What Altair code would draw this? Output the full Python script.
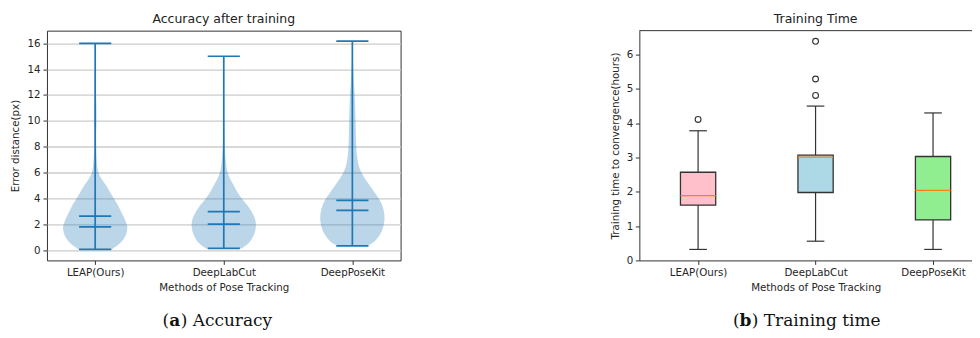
import json
import altair as alt
import pandas as pd

# ---------------- data ----------------
methods = ["LEAP(Ours)", "DeepLabCut", "DeepPoseKit"]
positions = [1, 2, 3]

# violin outlines (error distance level, half width in x units)
leap_levels = [0.05, 0.5, 1.0, 1.5, 1.8, 2.0, 2.5, 3.0, 3.5, 4.0, 4.5, 5.0, 5.5, 6.0, 7.0, 8.0, 9.0, 10.0, 11.0, 12.0, 13.0, 14.0, 15.0, 16.0]
leap_half = [0.13, 0.19, 0.23, 0.248, 0.25, 0.245, 0.225, 0.2, 0.175, 0.145, 0.115, 0.085, 0.05, 0.025, 0.012, 0.008, 0.007, 0.01, 0.01, 0.006, 0.004, 0.003, 0.002, 0.001]
dlc_levels = [0.13, 0.5, 1.0, 1.5, 2.0, 2.5, 3.0, 3.5, 4.0, 4.5, 5.0, 5.5, 6.0, 7.0, 8.0, 9.0, 10.0, 11.0, 12.0, 13.0, 14.0, 15.0]
dlc_half = [0.14, 0.19, 0.225, 0.245, 0.25, 0.24, 0.215, 0.18, 0.14, 0.105, 0.078, 0.05, 0.03, 0.015, 0.008, 0.005, 0.004, 0.003, 0.002, 0.002, 0.001, 0.001]
dpk_levels = [0.33, 0.5, 1.0, 1.5, 2.0, 2.5, 3.0, 3.5, 4.0, 4.5, 5.0, 5.5, 6.0, 6.5, 7.0, 8.0, 9.0, 10.0, 11.0, 12.0, 13.0, 14.0, 15.0, 16.17]
dpk_half = [0.12, 0.15, 0.2, 0.23, 0.245, 0.25, 0.245, 0.23, 0.205, 0.17, 0.135, 0.1, 0.07, 0.05, 0.04, 0.03, 0.027, 0.025, 0.022, 0.018, 0.012, 0.007, 0.003, 0.001]

violin_min = [0.05, 0.13, 0.33]
violin_max = [16.0, 15.0, 16.17]
violin_mean = [2.62, 2.98, 3.84]
violin_median = [1.8, 2.01, 3.07]

# training time box plot statistics (hours)
box_low = [0.32, 0.56, 0.32]
box_q1 = [1.61, 1.98, 1.18]
box_median = [1.89, 3.01, 2.04]
box_q3 = [2.57, 3.07, 3.03]
box_high = [3.78, 4.5, 4.3]
outlier_method = ["LEAP(Ours)", "DeepLabCut", "DeepLabCut", "DeepLabCut"]
outlier_value = [4.11, 4.81, 5.29, 6.39]
box_colors = ["#ffc0cb", "#add8e6", "#90ee90"]

title_a = "Accuracy after training"
title_b = "Training Time"
caption_a = ["(", "a", ") Accuracy"]
caption_b = ["(", "b", ") Training time"]

# ---------------- tables ----------------
pos_of = dict(zip(methods, positions))
vrows = []
for m, p, lv, hw in zip(methods, positions, [leap_levels, dlc_levels, dpk_levels], [leap_half, dlc_half, dpk_half]):
    for y, w in zip(lv, hw):
        vrows.append({"method": m, "y": y, "lo": p - w, "hi": p + w})
vdf = pd.DataFrame(vrows)

sdf = pd.DataFrame({"method": methods, "pos": positions, "vmin": violin_min, "vmax": violin_max})
crows = []
for m, p, a, b, c, d in zip(methods, positions, violin_min, violin_max, violin_mean, violin_median):
    for v in (a, b, c, d):
        crows.append({"method": m, "value": v, "lo": p - 0.125, "hi": p + 0.125})
cdf = pd.DataFrame(crows)

bdf = pd.DataFrame({"method": methods, "pos": positions, "low": box_low, "q1": box_q1,
                    "median": box_median, "q3": box_q3, "high": box_high})
bdf["lo"] = bdf["pos"] - 0.15
bdf["hi"] = bdf["pos"] + 0.15
wrows = []
for m, p, a, b in zip(methods, positions, box_low, box_high):
    for v in (a, b):
        wrows.append({"method": m, "value": v, "lo": p - 0.075, "hi": p + 0.075})
wdf = pd.DataFrame(wrows)
odf = pd.DataFrame({"method": outlier_method, "value": outlier_value})
odf["pos"] = odf["method"].map(pos_of)

# ---------------- styling ----------------
FONT = "DejaVu Sans"
TXT = "#262626"
DARK = "#333333"
BLUE = "#1f77b4"
label_expr = json.dumps(methods) + "[datum.value - 1]"

ax_common = dict(labelFont=FONT, labelFontSize=10.3, labelColor=TXT, titleFont=FONT,
                 titleFontSize=10.3, titleFontWeight="normal", titleColor=TXT,
                 tickColor=DARK, tickWidth=1, tickSize=4)


def text_layer(txt, x, y, size, font=FONT, weight="normal", align="center", color="#222222"):
    return alt.Chart(alt.Data(values=[{}])).mark_text(
        font=font, fontSize=size, color=color, align=align, baseline="alphabetic", fontWeight=weight,
    ).encode(x=alt.value(x), y=alt.value(y), text=alt.value(txt))


def caption(parts, x0, widths, y):
    layers = []
    x = x0
    for i, t in enumerate(parts):
        layers.append(text_layer(t, x, y, 17, font="DejaVu Serif",
                                 weight="bold" if i == 1 else "normal", align="left", color="#111111"))
        if i < len(widths):
            x += widths[i]
    return layers


# ---------------- left: violins ----------------
xs_l = alt.Scale(domain=[0.625, 3.375], nice=False, zero=False)
ys_l = alt.Scale(domain=[-0.8, 16.98], nice=False, zero=False)
xax_l = alt.Axis(values=positions, labelExpr=label_expr, title="Methods of Pose Tracking", grid=False,
                 domain=False, labelPadding=3.5, labelFlush=False, labelAngle=0, labelOverlap=False,
                 titleX=177, titleY=27, titleAlign="center", titleBaseline="middle", **ax_common)
yax_l = alt.Axis(values=list(range(0, 17, 2)), title="Error distance(px)", grid=True, gridColor="#cccccc",
                 gridWidth=1.3, domain=False, labelPadding=3, titleX=-31, titleY=115, titleAngle=270,
                 titleAlign="center", titleBaseline="middle", **ax_common)

violin = alt.Chart(vdf).mark_area(orient="horizontal", interpolate="monotone", color=BLUE, opacity=0.3).encode(
    y=alt.Y("y:Q", scale=ys_l, axis=yax_l),
    x=alt.X("lo:Q", scale=xs_l, axis=xax_l),
    x2="hi:Q",
    detail="method:N",
)
vline = alt.Chart(sdf).mark_rule(color=BLUE, strokeWidth=1.7).encode(
    x=alt.X("pos:Q", scale=xs_l, axis=xax_l),
    y=alt.Y("vmin:Q", scale=ys_l, axis=yax_l),
    y2="vmax:Q",
)
caps = alt.Chart(cdf).mark_rule(color=BLUE, strokeWidth=1.7).encode(
    x=alt.X("lo:Q", scale=xs_l, axis=xax_l),
    x2="hi:Q",
    y=alt.Y("value:Q", scale=ys_l, axis=yax_l),
)

left = alt.layer(
    violin, vline, caps,
    text_layer(title_a, 177, -7.5, 12.5),
    *caption(caption_a, 115.7, [6.63, 11.5], 296),
).properties(
    width=354, height=230,
    view=alt.ViewBackground(stroke=DARK, strokeWidth=1),
)

# ---------------- right: boxes ----------------
RW = 340
xs_r = alt.Scale(domain=[0.5, 0.5 + RW / 117.6], nice=False, zero=False)
ys_r = alt.Scale(domain=[0, 6.7], nice=False, zero=False)
xax_r = alt.Axis(values=positions, labelExpr=label_expr, title="Methods of Pose Tracking", grid=False,
                 domain=True, domainColor=DARK, domainWidth=1, labelPadding=3.5, labelFlush=False,
                 labelAngle=0, labelOverlap=False, titleX=176.5, titleY=27, titleAlign="center",
                 titleBaseline="middle", **ax_common)
yax_r = alt.Axis(values=list(range(0, 7)), title="Training time to convergence(hours)", grid=False,
                 domain=True, domainColor=DARK, domainWidth=1, labelPadding=2.5, titleX=-24, titleY=115,
                 titleAngle=270, titleAlign="center", titleBaseline="middle", **ax_common)

boxes = alt.Chart(bdf).mark_bar(stroke=DARK, strokeWidth=1.3).encode(
    x=alt.X("lo:Q", scale=xs_r, axis=xax_r),
    x2="hi:Q",
    y=alt.Y("q1:Q", scale=ys_r, axis=yax_r),
    y2="q3:Q",
    color=alt.Color("method:N", scale=alt.Scale(domain=methods, range=box_colors), legend=None),
)
medians = alt.Chart(bdf).mark_rule(color="#ff7f0e", strokeWidth=1.3).encode(
    x=alt.X("lo:Q", scale=xs_r, axis=xax_r),
    x2="hi:Q",
    y=alt.Y("median:Q", scale=ys_r, axis=yax_r),
)
wlow = alt.Chart(bdf).mark_rule(color=DARK, strokeWidth=1.2).encode(
    x=alt.X("pos:Q", scale=xs_r, axis=xax_r),
    y=alt.Y("low:Q", scale=ys_r, axis=yax_r),
    y2="q1:Q",
)
whigh = alt.Chart(bdf).mark_rule(color=DARK, strokeWidth=1.2).encode(
    x=alt.X("pos:Q", scale=xs_r, axis=xax_r),
    y=alt.Y("q3:Q", scale=ys_r, axis=yax_r),
    y2="high:Q",
)
wcaps = alt.Chart(wdf).mark_rule(color=DARK, strokeWidth=1.2).encode(
    x=alt.X("lo:Q", scale=xs_r, axis=xax_r),
    x2="hi:Q",
    y=alt.Y("value:Q", scale=ys_r, axis=yax_r),
)
outliers = alt.Chart(odf).mark_point(shape="circle", filled=False, color=DARK, size=34, strokeWidth=1.1, opacity=1).encode(
    x=alt.X("pos:Q", scale=xs_r, axis=xax_r),
    y=alt.Y("value:Q", scale=ys_r, axis=yax_r),
)
top_border = alt.Chart(alt.Data(values=[{}])).mark_rule(color=DARK, strokeWidth=1).encode(
    x=alt.value(0), x2=alt.value(RW), y=alt.value(0)
)
right = alt.layer(
    boxes, medians, wlow, whigh, wcaps, outliers, top_border,
    text_layer(title_b, 176.5, -7.5, 12.5),
    *caption(caption_b, 93.7, [6.63, 12.2], 296),
).properties(
    width=RW, height=230,
    view=alt.ViewBackground(stroke="transparent"),
)

chart = alt.hconcat(left, right, spacing=239, bounds="flush").resolve_scale(
    x="independent", y="independent", color="independent"
).properties(
    padding={"left": 2, "top": 4.5, "right": -8, "bottom": 0},
    background="white",
)

chart.save("out.html", embed_options={"renderer": "svg", "actions": False})
